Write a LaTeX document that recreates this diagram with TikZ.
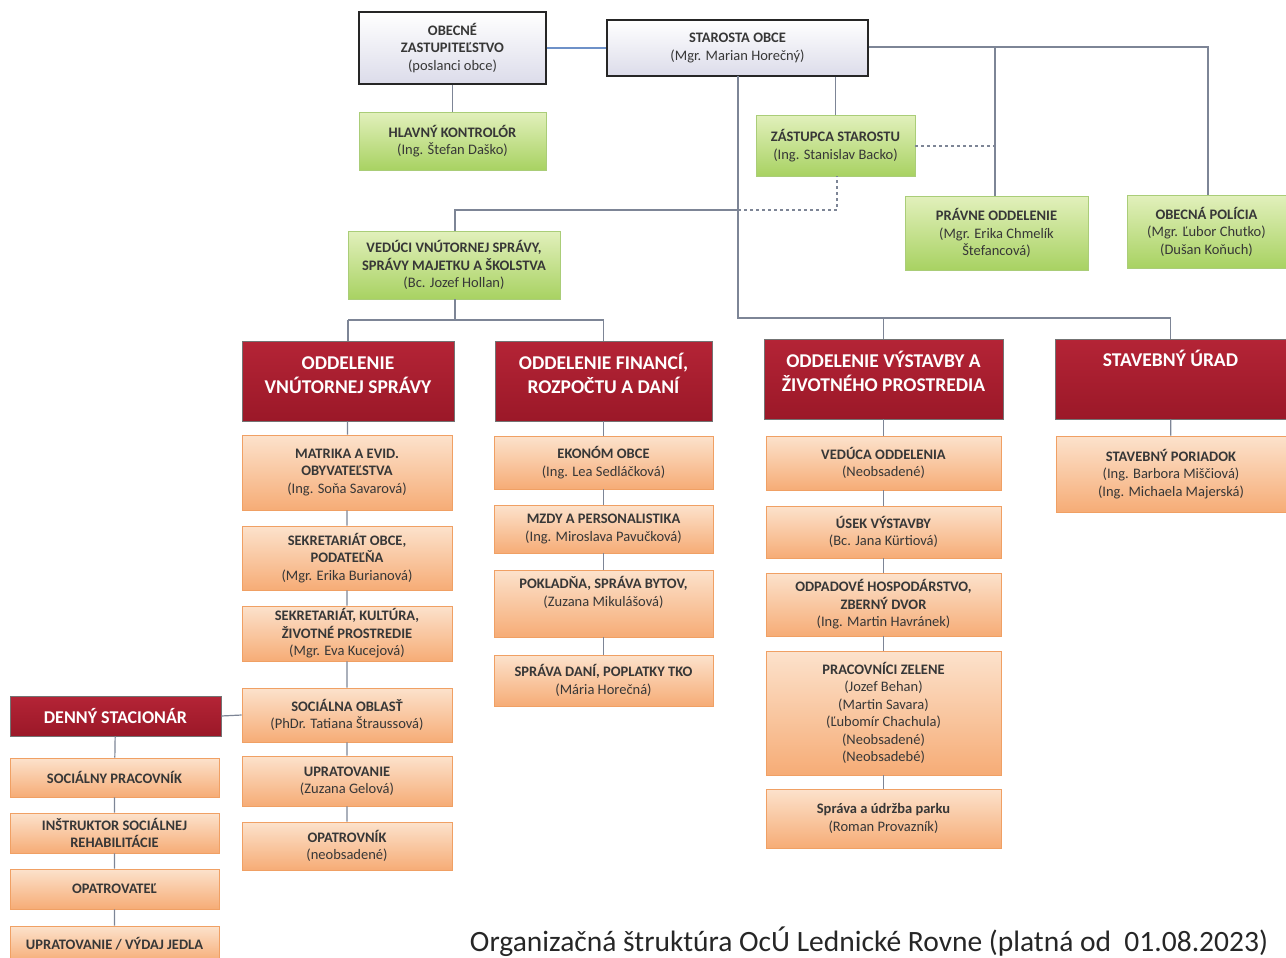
\documentclass[tikz,border=0pt]{standalone}
\usepackage{fontspec}
\setmainfont{Carlito}
\usetikzlibrary{positioning}
\definecolor{orTop}{RGB}{252,226,204}
\definecolor{orBot}{RGB}{246,172,118}
\definecolor{orLine}{RGB}{240,160,100}
\definecolor{grTop}{RGB}{226,240,188}
\definecolor{grBot}{RGB}{168,210,98}
\definecolor{grLine}{RGB}{170,205,120}
\definecolor{rdTop}{RGB}{180,36,54}
\definecolor{rdBot}{RGB}{155,24,40}
\definecolor{tpBot}{RGB}{220,220,234}
\definecolor{lnCol}{RGB}{125,133,150}
\definecolor{lnBlue}{RGB}{110,145,200}
\definecolor{txCol}{RGB}{55,55,55}
\begin{document}
\begin{tikzpicture}[x=1pt,y=-1pt,
  box/.style={draw, rectangle, align=center, inner sep=1pt, font=\fontsize{14.5}{17.5}\selectfont, text=txCol},
  topbox/.style={box, draw=black!85, line width=1.3pt, top color=white, bottom color=tpBot},
  greenbox/.style={box, draw=grLine, line width=0.6pt, top color=grTop, bottom color=grBot},
  orangebox/.style={box, draw=orLine, line width=0.6pt, top color=orTop, bottom color=orBot},
  redbox/.style={draw=black!55, line width=0.6pt, rectangle, top color=rdTop, bottom color=rdBot},
  redtext/.style={align=center, inner sep=0pt, text=white, font=\fontsize{19.5}{24}\selectfont\bfseries},
  boxtext/.style={align=center, inner sep=0pt, text=txCol, font=\fontsize{14.5}{17.5}\selectfont},
  conn/.style={draw=lnCol, line width=1.2pt},
  dconn/.style={conn, dash pattern=on 3pt off 3pt}]
\useasboundingbox (0,0) rectangle (1286,958);

% top row
\node[topbox, minimum width=187pt, minimum height=72pt] (zast) at (452.5,48) {\textbf{OBECNÉ}\\\textbf{ZASTUPITEĽSTVO}\\(poslanci obce)};
\node[topbox, minimum width=261pt, minimum height=56pt] (star) at (737.5,48) {\textbf{STAROSTA OBCE}\\(Mgr. Marian Horečný)};
\node[greenbox, minimum width=187pt, minimum height=58pt] (kontr) at (452.5,141) {\textbf{HLAVNÝ KONTROLÓR}\\(Ing. Štefan Daško)};
\node[greenbox, minimum width=159pt, minimum height=61pt] (zast2) at (835.5,145.5) {\textbf{ZÁSTUPCA STAROSTU}\\(Ing. Stanislav Backo)};
\node[greenbox, minimum width=183pt, minimum height=74pt] (pravne) at (996.5,233) {\textbf{PRÁVNE ODDELENIE}\\(Mgr. Erika Chmelík\\Štefancová)};
\node[greenbox, minimum width=159pt, minimum height=73pt] (policia) at (1206.5,231.5) {\textbf{OBECNÁ POLÍCIA}\\(Mgr. Ľubor Chutko)\\(Dušan Koňuch)};
\node[greenbox, minimum width=212pt, minimum height=68pt] (veduci) at (454,265) {\textbf{VEDÚCI VNÚTORNEJ SPRÁVY,}\\\textbf{SPRÁVY MAJETKU A ŠKOLSTVA}\\(Bc. Jozef Hollan)};

% red departments
\node[redbox, minimum width=212pt, minimum height=80pt] (red1) at (348,381) {};
\node[redtext, below=11pt of red1.north] (red1t) {\rule{0pt}{18pt}ODDELENIE\\VNÚTORNEJ SPRÁVY};
\node[redbox, minimum width=217pt, minimum height=80pt] (red2) at (603.5,381) {};
\node[redtext, below=11pt of red2.north] (red2t) {\rule{0pt}{18pt}ODDELENIE FINANCÍ,\\ROZPOČTU A DANÍ};
\node[redbox, minimum width=239pt, minimum height=80pt] (red3) at (883.5,379) {};
\node[redtext, below=11pt of red3.north] (red3t) {\rule{0pt}{18pt}ODDELENIE VÝSTAVBY A\\ŽIVOTNÉHO PROSTREDIA};
\node[redbox, minimum width=231pt, minimum height=80pt] (red4) at (1170.5,379) {};
\node[redtext, below=10pt of red4.north] (red4t) {\rule{0pt}{18pt}STAVEBNÝ ÚRAD};
\node[redbox, minimum width=211pt, minimum height=40pt] (denny) at (115.5,716) {};
\node[redtext, font=\fontsize{18}{22}\selectfont\bfseries] (dennyt) at (denny) {DENNÝ STACIONÁR};

% column 1
\node[orangebox, minimum width=210pt, minimum height=75pt] (matrika) at (347,472.5) {\textbf{MATRIKA A EVID.}\\\textbf{OBYVATEĽSTVA}\\(Ing. Soňa Savarová)};
\node[orangebox, minimum width=210pt, minimum height=64pt] (sekr1) at (347,558) {\textbf{SEKRETARIÁT OBCE,}\\\textbf{PODATEĽŇA}\\(Mgr. Erika Burianová)};
\node[orangebox, minimum width=210pt, minimum height=55pt] (sekr2) at (347,633.5) {\textbf{SEKRETARIÁT, KULTÚRA,}\\\textbf{ŽIVOTNÉ PROSTREDIE}\\(Mgr. Eva Kucejová)};
\node[orangebox, minimum width=210pt, minimum height=54pt] (social) at (347,715) {\textbf{SOCIÁLNA OBLASŤ}\\(PhDr. Tatiana Štraussová)};
\node[orangebox, minimum width=210pt, minimum height=50pt] (uprat) at (347,781) {\textbf{UPRATOVANIE}\\(Zuzana Gelová)};
\node[orangebox, minimum width=210pt, minimum height=48pt] (opatr) at (347,846) {\textbf{OPATROVNÍK}\\(neobsadené)};

% column 2
\node[orangebox, minimum width=219pt, minimum height=53pt] (ekonom) at (603.5,462.5) {\textbf{EKONÓM OBCE}\\(Ing. Lea Sedláčková)};
\node[orangebox, minimum width=219pt, minimum height=48pt] (mzdy) at (603.5,529) {\textbf{MZDY A PERSONALISTIKA}\\(Ing. Miroslava Pavučková)};
\node[orangebox, minimum width=219pt, minimum height=67pt] (pokl) at (603.5,603.5) {};
\node[boxtext, below=3pt of pokl.north] (poklt) {\rule{0pt}{16pt}\textbf{POKLADŇA, SPRÁVA BYTOV,}\\(Zuzana Mikulášová)};
\node[orangebox, minimum width=219pt, minimum height=51pt] (dane) at (603.5,680.5) {\textbf{SPRÁVA DANÍ, POPLATKY TKO}\\(Mária Horečná)};

% column 3
\node[orangebox, minimum width=235pt, minimum height=54pt] (veduca) at (883.5,463) {\textbf{VEDÚCA ODDELENIA}\\(Neobsadené)};
\node[orangebox, minimum width=235pt, minimum height=52pt] (usek) at (883.5,532) {\textbf{ÚSEK VÝSTAVBY}\\(Bc. Jana Kürtiová)};
\node[orangebox, minimum width=235pt, minimum height=63pt] (odpad) at (883.5,604.5) {\textbf{ODPADOVÉ HOSPODÁRSTVO,}\\\textbf{ZBERNÝ DVOR}\\(Ing. Martin Havránek)};
\node[orangebox, minimum width=235pt, minimum height=124pt] (pracov) at (883.5,713) {\textbf{PRACOVNÍCI ZELENE}\\(Jozef Behan)\\(Martin Savara)\\(Ľubomír Chachula)\\(Neobsadené)\\(Neobsadebé)};
\node[orangebox, minimum width=235pt, minimum height=59pt] (park) at (883.5,818.5) {\textbf{Správa a údržba parku}\\(Roman Provazník)};

% column 4
\node[orangebox, minimum width=230pt, minimum height=76pt] (stavpor) at (1171,474) {\textbf{STAVEBNÝ PORIADOK}\\(Ing. Barbora Miščiová)\\(Ing. Michaela Majerská)};

% column 0
\node[orangebox, minimum width=209pt, minimum height=39pt] (socprac) at (114.5,777.5) {\textbf{SOCIÁLNY PRACOVNÍK}};
\node[orangebox, minimum width=209pt, minimum height=40pt] (instr) at (114.5,833) {\textbf{INŠTRUKTOR SOCIÁLNEJ}\\\textbf{REHABILITÁCIE}};
\node[orangebox, minimum width=209pt, minimum height=40pt] (opatrov) at (114.5,889) {\textbf{OPATROVATEĽ}};
\node[orangebox, minimum width=209pt, minimum height=36pt] (upratv) at (114.5,944) {\textbf{UPRATOVANIE / VÝDAJ JEDLA}};

% title
\node[text=black!85, font=\fontsize{29.5}{34}\selectfont, inner sep=0pt] (title) at (869,942) {Organizačná štruktúra OcÚ Lednické Rovne (platná od\ \ 01.08.2023)};

% coordinates
\coordinate (jR) at (1208,47);
\coordinate (jP) at (995,47);
\coordinate (jD) at (995,146);
\coordinate (sA) at (738,76);
\coordinate (sB) at (738,210);
\coordinate (sC) at (738,318);
\coordinate (vL) at (455,210);
\coordinate (zD) at (837,210);
\coordinate (vB) at (455,320);

% connectors
\draw[conn, draw=lnBlue] (zast.east) -- (star.west);
\draw[conn] (star.east |- jR) -- (jR) -- (policia.north -| jR);
\draw[conn] (jP) -- (pravne.north -| jP);
\draw[conn] (zast.south -| kontr.north) -- (kontr.north);
\draw[conn] (star.south -| zast2.north) -- (zast2.north);
\draw[dconn] (zast2.east |- jD) -- (jD);
\draw[conn] (sA) -- (sC) -- (sC -| red4.north) -- (red4.north);
\draw[conn] (red3.north |- sC) -- (red3.north);
\draw[conn] (sB) -- (vL) -- (veduci.north -| vL);
\draw[dconn] (sB) -- (zD) -- (zast2.south -| zD);
\draw[conn] (veduci.south -| vB) -- (vB);
\draw[conn] (vB -| red1.north) -- (vB -| red2.north);
\draw[conn] (vB -| red1.north) -- (red1.north);
\draw[conn] (vB -| red2.north) -- (red2.north);

\draw[conn] (red1) -- (matrika) -- (sekr1) -- (sekr2) -- (social) -- (uprat) -- (opatr);
\draw[conn] (red2) -- (ekonom) -- (mzdy) -- (pokl) -- (dane);
\draw[conn] (red3) -- (veduca) -- (usek) -- (odpad) -- (pracov) -- (park);
\draw[conn] (red4) -- (stavpor);
\draw[conn] (denny.east) -- (social.west);
\draw[conn] (denny) -- (socprac) -- (instr) -- (opatrov) -- (upratv);
\end{tikzpicture}
\end{document}
